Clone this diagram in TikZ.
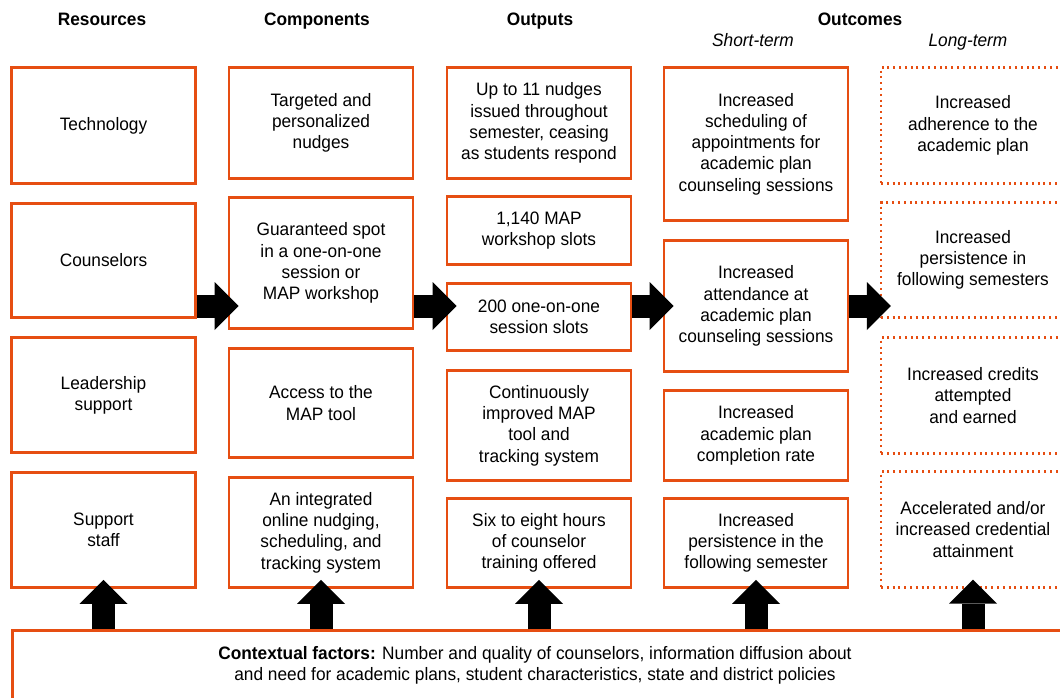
\documentclass[tikz,border=0pt]{standalone}
\usepackage{fontspec}
\setmainfont[FakeStretch=0.96]{Liberation Sans}
\usepackage{xcolor}
\usepackage{tikz}
\usetikzlibrary{arrows.meta, positioning, calc}
\definecolor{iesorange}{HTML}{E64E12}

\begin{document}
\begin{tikzpicture}[
    x=1pt, y=-1pt,
    txt/.style={font=\fontsize{18}{21.3}\selectfont, align=center, inner sep=0pt},
    cbox/.style={txt, draw=iesorange, line width=2.8pt,
                 minimum width=184pt},
    lbox/.style={cbox, draw=iesorange, dash pattern=on 2pt off 3.8pt, line width=2.3pt},
    hdr/.style={font=\fontsize{18}{21.3}\selectfont\bfseries, anchor=base, inner sep=0pt},
    subhdr/.style={font=\fontsize{18}{21.3}\selectfont\itshape, anchor=base, inner sep=0pt},
    flowarr/.style={line width=23pt, black,
                 -{Triangle[length=24pt, width=48pt, line width=0pt]}},
]
    \useasboundingbox (0,0) rectangle (1060,698);

    % Column headings
    \node[hdr] (hres) at (102,26) {Resources};
    \node[hdr] (hcomp) at (317,26) {Components};
    \node[hdr] (hout) at (540,26) {Outputs};
    \node[hdr] (hoc) at (860,26) {Outcomes};
    \node[subhdr] (hshort) at (753,47) {Short-term};
    \node[subhdr] (hlong) at (968,47) {Long-term};

    % Resources
    \node[cbox, minimum height=116pt] (res1) at (103.5,125.5) {Technology};
    \node[cbox, minimum height=114pt] (res2) at (103.5,260.5) {Counselors};
    \node[cbox, minimum height=115pt] (res3) at (103.5,395) {Leadership\\support};
    \node[cbox, minimum height=115pt] (res4) at (103.5,530) {Support\\staff};

    % Components
    \node[cbox, minimum height=111pt] (comp1) at (321,123) {Targeted and\\personalized\\nudges};
    \node[cbox, minimum height=131pt] (comp2) at (321,263) {Guaranteed spot\\in a one-on-one\\session or\\MAP workshop};
    \node[cbox, minimum height=109pt] (comp3) at (321,403) {Access to the\\MAP tool};
    \node[cbox, minimum height=110pt] (comp4) at (321,532.5) {An integrated\\online nudging,\\scheduling, and\\tracking system};

    % Outputs
    \node[cbox, minimum height=111pt] (out1) at (539,123) {Up to 11 nudges\\issued throughout\\semester, ceasing\\as students respond};
    \node[cbox, minimum height=68pt] (out2) at (539,230.5) {1,140 MAP\\workshop slots};
    \node[cbox, minimum height=67pt] (out3) at (539,317) {200 one-on-one\\session slots};
    \node[cbox, minimum height=110pt] (out4) at (539,425.5) {Continuously\\improved MAP\\tool and\\tracking system};
    \node[cbox, minimum height=89pt] (out5) at (539,543) {Six to eight hours\\of counselor\\training offered};

    % Short-term outcomes
    \node[cbox, minimum height=153pt] (st1) at (756,144) {Increased\\scheduling of\\appointments for\\academic plan\\counseling sessions};
    \node[cbox, minimum height=131pt] (st2) at (756,306) {Increased\\attendance at\\academic plan\\counseling sessions};
    \node[cbox, minimum height=90pt] (st3) at (756,435.5) {Increased\\academic plan\\completion rate};
    \node[cbox, minimum height=89pt] (st4) at (756,543) {Increased\\persistence in the\\following semester};

    % Long-term outcomes
    \node[lbox, minimum height=116pt] (lt1) at (973,125.5) {Increased\\adherence to the\\academic plan};
    \node[lbox, minimum height=115pt] (lt2) at (973,260) {Increased\\persistence in\\following semesters};
    \node[lbox, minimum height=116pt] (lt3) at (973,395.5) {Increased credits\\attempted\\and earned};
    \node[lbox, minimum height=116pt] (lt4) at (973,529.5) {Accelerated and/or\\increased credential\\attainment};

    % Contextual factors
    \node[draw=iesorange, line width=2.8pt, minimum width=1090pt, minimum height=120pt,
          anchor=north west, inner sep=0pt] (ctxbox) at (11,629) {};
    \node[txt] (ctx) at (535,665) {\textbf{Contextual factors:} Number and quality of counselors, information diffusion about\\and need for academic plans, student characteristics, state and district policies};

    % Flow arrows
    \coordinate (flow) at (0,306);
    \draw[flowarr, shorten >=-11pt] (res2.east |- flow) -- (comp2.west |- flow);
    \draw[flowarr, shorten >=-11pt] (comp2.east |- flow) -- (out3.west |- flow);
    \draw[flowarr, shorten >=-11pt] (out3.east |- flow) -- (st2.west |- flow);
    \draw[flowarr, shorten >=-11pt] (st2.east |- flow) -- (lt2.west |- flow);

    % Context arrows
    \draw[flowarr, shorten >=-9pt] (ctxbox.north -| res4) -- (res4.south);
    \draw[flowarr, shorten >=-9pt] (ctxbox.north -| comp4) -- (comp4.south);
    \draw[flowarr, shorten >=-9pt] (ctxbox.north -| out5) -- (out5.south);
    \draw[flowarr, shorten >=-9pt] (ctxbox.north -| st4) -- (st4.south);
    \draw[flowarr, shorten >=-9pt] (ctxbox.north -| lt4) -- (lt4.south);
\end{tikzpicture}
\end{document}
